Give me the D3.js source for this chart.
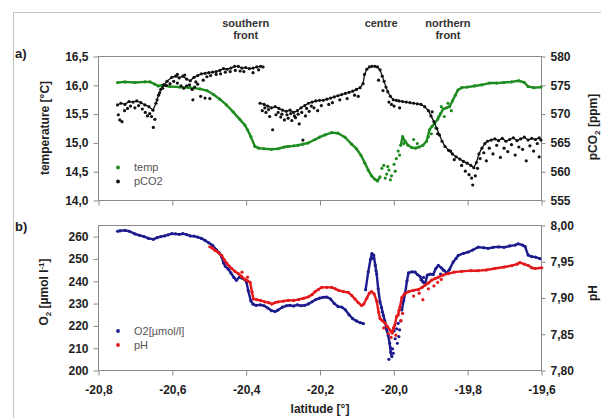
<!DOCTYPE html>
<html>
<head>
<meta charset="utf-8">
<script src="https://cdn.jsdelivr.net/npm/d3@7"></script>
<style>
  body { margin: 0; background: #fff; }
  svg { display: block; font-family: Arial, "Liberation Sans", sans-serif; }
  .axis .tick text { font-size: 12px; font-weight: bold; fill: #1e1e1e; }
  .axis path, .axis line { stroke: #8a8a8a; }
  .title { font-size: 12px; font-weight: bold; fill: #1e1e1e; }
  .front { font-size: 11px; font-weight: bold; fill: #333; }
  .legend { font-size: 11px; fill: #555; }
</style>
</head>
<body>
<svg id="chart" width="601" height="418"></svg>
<script>
// latitude ticks shared by both panels
const latTicks = [-20.8, -20.6, -20.4, -20.2, -20.0, -19.8, -19.6];
const tempTicks = [14.0, 14.5, 15.0, 15.5, 16.0, 16.5];
const pco2Ticks = [555, 560, 565, 570, 575, 580];
const o2Ticks = [200, 210, 220, 230, 240, 250, 260];
const phTicks = [7.80, 7.85, 7.90, 7.95, 8.00];

const fronts = [
  { lat: -20.4, lines: ["southern", "front"] },
  { lat: -20.033, lines: ["centre"] },
  { lat: -19.852, lines: ["northern", "front"] },
];

// [latitude, value]; null breaks a run of points
const temp = [
  [-20.747,16.04],[-20.727,16.05],[-20.700,16.04],[-20.673,16.05],[-20.659,16.05],[-20.646,16.01],
  [-20.637,15.98],[-20.627,15.99],[-20.605,15.97],[-20.578,15.96],[-20.551,15.95],[-20.524,15.93],
  [-20.505,15.90],[-20.487,15.83],[-20.470,15.75],[-20.452,15.65],[-20.434,15.53],[-20.416,15.40],
  [-20.402,15.30],[-20.395,15.22],[-20.386,15.10],[-20.375,14.93],[-20.365,14.90],[-20.350,14.89],
  [-20.330,14.88],[-20.312,14.89],[-20.295,14.92],[-20.285,14.93],[-20.270,14.94],[-20.258,14.95],
  [-20.245,14.97],[-20.231,14.99],[-20.212,15.05],[-20.200,15.09],[-20.185,15.13],[-20.167,15.17],
  [-20.150,15.16],[-20.131,15.09],[-20.113,14.97],[-20.100,14.89],[-20.088,14.78],[-20.077,14.64],
  [-20.068,14.52],[-20.059,14.42],[-20.050,14.36],[-20.043,14.33],[-20.036,14.40],
  null,
  [-19.980,14.95],[-19.975,15.10],[-19.968,15.02],[-19.960,14.95],[-19.950,14.91],[-19.940,14.90],
  [-19.930,14.92],[-19.920,14.95],[-19.910,15.02],[-19.902,15.22],[-19.895,15.28],[-19.888,15.33],
  [-19.880,15.40],[-19.872,15.50],[-19.865,15.58],[-19.856,15.60],[-19.848,15.62],[-19.840,15.72],
  [-19.832,15.82],[-19.825,15.91],[-19.815,15.95],[-19.800,15.96],[-19.780,15.98],[-19.760,16.00],
  [-19.740,16.03],[-19.720,16.03],[-19.700,16.04],[-19.680,16.05],[-19.660,16.07],[-19.645,16.04],
  [-19.635,15.97],[-19.620,15.95],[-19.600,15.96],
];
const tempScatter = [
  [-20.031,14.55],[-20.026,14.60],[-20.022,14.38],[-20.018,14.45],[-20.015,14.58],[-20.012,14.52],
  [-20.008,14.35],[-20.005,14.42],[-19.998,14.62],[-19.995,14.50],[-19.992,14.72],[-19.987,14.85],
  [-19.983,14.78],[-19.972,14.98],[-19.945,15.05],[-19.935,14.98],[-19.905,15.10],[-19.897,15.15],
  [-19.885,15.25],[-19.877,15.45],[-19.870,15.62],[-19.862,15.45],[-19.852,15.68],[-19.843,15.55],
];

const pco2 = [
  [-20.747,571.5],[-20.738,571.8],[-20.727,571.6],[-20.716,572.1],[-20.705,572.0],[-20.695,572.2],
  [-20.684,571.9],[-20.673,571.5],[-20.662,571.2],[-20.651,570.6],[-20.643,571.8],[-20.636,573.2],
  [-20.630,574.2],[-20.622,575.0],[-20.613,575.6],[-20.600,576.3],[-20.590,576.5],[-20.580,576.2],
  [-20.570,576.5],[-20.560,576.0],[-20.550,575.7],[-20.540,576.3],[-20.530,576.6],[-20.520,576.9],
  [-20.510,577.0],[-20.500,577.1],[-20.490,577.2],[-20.480,577.3],[-20.470,577.5],[-20.460,577.8],
  [-20.450,577.7],[-20.440,577.9],[-20.430,578.2],[-20.420,578.2],[-20.410,577.9],[-20.400,578.0],
  [-20.390,577.8],[-20.380,577.9],[-20.370,578.1],[-20.360,578.2],[-20.353,578.1],
  null,
  [-20.361,571.8],[-20.350,571.6],[-20.340,571.3],[-20.330,571.0],[-20.320,571.2],[-20.310,570.9],
  [-20.300,570.6],[-20.290,570.4],[-20.280,570.6],[-20.270,570.2],[-20.260,570.5],[-20.250,571.0],
  [-20.240,571.4],[-20.230,571.8],[-20.220,572.0],[-20.210,572.2],[-20.200,572.3],[-20.190,572.3],
  [-20.180,572.5],[-20.170,572.7],[-20.160,572.9],[-20.150,573.1],[-20.140,573.3],[-20.130,573.5],
  [-20.120,573.7],[-20.110,573.9],[-20.100,574.2],[-20.090,574.5],[-20.082,575.2],[-20.078,576.8],
  [-20.072,577.7],[-20.065,578.1],[-20.058,578.2],[-20.050,578.2],[-20.043,578.1],[-20.036,577.6],
  [-20.030,576.5],[-20.025,575.6],[-20.020,574.6],[-20.015,573.8],[-20.008,573.0],[-20.000,572.4],
  [-19.992,572.3],[-19.985,572.2],[-19.975,572.1],[-19.965,572.0],[-19.955,571.9],[-19.945,571.8],
  [-19.935,571.7],[-19.925,571.6],[-19.915,571.2],[-19.905,570.5],[-19.898,569.6],[-19.890,568.6],
  [-19.882,567.4],[-19.875,566.3],[-19.868,565.2],[-19.860,564.3],[-19.850,563.6],[-19.840,563.0],
  [-19.830,562.5],[-19.820,562.1],[-19.810,561.7],[-19.800,561.4],[-19.790,561.0],[-19.782,560.6],
  [-19.775,561.5],[-19.768,563.0],[-19.760,564.0],[-19.752,564.8],[-19.745,565.2],[-19.735,565.4],
  [-19.725,565.6],[-19.715,565.3],[-19.705,565.7],[-19.695,565.2],[-19.685,565.5],[-19.675,565.8],
  [-19.665,565.3],[-19.655,565.6],[-19.645,565.9],[-19.635,565.4],[-19.625,565.7],[-19.615,565.5],
  [-19.605,565.8],[-19.600,565.4],
];
const pco2Scatter = [
  [-20.745,569.8],[-20.741,568.9],[-20.735,568.6],[-20.728,570.5],[-20.720,570.9],[-20.712,571.3],
  [-20.700,571.0],[-20.690,571.4],[-20.680,570.8],[-20.672,570.2],[-20.666,569.6],[-20.660,570.0],
  [-20.655,569.5],[-20.650,567.6],[-20.646,569.0],[-20.640,572.4],[-20.633,573.6],[-20.625,574.4],
  [-20.615,574.9],[-20.605,575.2],[-20.595,575.6],[-20.585,575.3],[-20.575,574.8],[-20.568,574.4],
  [-20.560,574.8],[-20.552,575.0],[-20.545,574.2],[-20.543,572.4],[-20.538,574.6],[-20.530,575.1],
  [-20.522,573.0],[-20.515,575.8],[-20.510,572.7],[-20.505,576.4],[-20.497,572.6],[-20.495,576.6],
  [-20.480,576.8],[-20.468,576.9],[-20.455,577.2],[-20.442,577.3],[-20.428,577.5],[-20.415,577.4],
  [-20.405,577.3],[-20.380,577.1],[-20.365,577.6],[-20.585,576.8],[-20.565,576.7],[-20.535,575.5],
  [-20.355,570.5],[-20.345,570.2],[-20.335,569.5],[-20.327,567.2],[-20.318,569.8],[-20.305,569.4],
  [-20.295,568.9],[-20.285,569.2],[-20.275,568.8],[-20.265,569.3],[-20.255,568.2],[-20.245,565.4],
  [-20.238,569.6],[-20.228,570.4],[-20.215,571.0],[-20.205,570.5],[-20.195,571.4],[-20.175,571.6],
  [-20.165,571.9],[-20.145,572.4],[-20.125,572.6],[-20.105,573.2],[-20.095,573.0],[-20.040,575.8],
  [-20.348,571.0],[-20.338,570.7],[-20.312,570.2],[-20.302,569.9],[-20.288,569.8],[-20.278,570.0],
  [-20.268,569.6],[-20.258,569.9],[-20.248,570.2],[-20.235,570.9],[-20.222,571.3],
  [-20.028,574.0],[-20.012,572.0],[-20.005,571.6],[-19.998,571.3],[-19.983,571.0],[-19.895,570.3],
  [-19.880,566.5],[-19.845,563.5],[-19.835,562.0],[-19.815,561.0],[-19.805,560.0],[-19.795,559.4],
  [-19.788,558.8],[-19.785,557.6],[-19.778,559.2],[-19.772,560.5],[-19.765,562.2],[-19.755,563.2],
  [-19.748,561.8],[-19.740,564.0],[-19.730,563.0],[-19.720,564.5],[-19.710,562.4],[-19.700,564.0],
  [-19.690,563.4],[-19.680,564.6],[-19.670,562.8],[-19.660,564.2],[-19.650,563.8],[-19.640,561.8],
  [-19.630,564.4],[-19.620,563.5],[-19.610,564.8],[-19.605,562.5],
];

const o2 = [
  [-20.747,262.2],[-20.740,262.4],[-20.727,262.6],[-20.715,262.2],[-20.700,261.0],[-20.688,260.4],
  [-20.675,259.8],[-20.663,259.0],[-20.650,258.6],[-20.640,259.3],[-20.630,259.8],[-20.620,260.1],
  [-20.610,260.6],[-20.600,261.1],[-20.590,261.0],[-20.580,260.8],[-20.570,261.1],[-20.560,260.7],
  [-20.550,260.1],[-20.540,260.0],[-20.530,259.6],[-20.520,259.0],[-20.510,258.1],[-20.500,257.0],
  [-20.490,255.9],[-20.480,254.0],[-20.472,252.5],[-20.465,250.7],[-20.460,248.0],[-20.455,246.5],
  [-20.447,245.2],[-20.440,243.5],[-20.432,241.5],[-20.425,240.2],[-20.417,241.7],[-20.410,241.2],
  [-20.403,240.6],[-20.398,239.5],[-20.393,235.5],[-20.386,231.0],[-20.380,229.5],[-20.372,229.0],
  [-20.360,229.2],[-20.350,228.8],[-20.340,227.8],[-20.330,226.6],[-20.320,226.2],[-20.313,226.8],
  [-20.300,228.2],[-20.290,228.8],[-20.280,229.0],[-20.270,228.7],[-20.260,229.2],[-20.250,228.8],
  [-20.240,229.0],[-20.230,229.6],[-20.220,230.6],[-20.210,231.6],[-20.200,232.2],[-20.190,232.6],
  [-20.180,232.7],[-20.170,231.8],[-20.160,229.8],[-20.150,228.5],[-20.140,228.2],[-20.130,227.0],
  [-20.120,224.8],[-20.110,223.0],[-20.100,222.0],[-20.090,221.2],[-20.081,220.8],
  null,
  [-20.075,236.0],[-20.068,244.0],[-20.062,249.5],[-20.058,252.2],[-20.053,251.5],[-20.049,247.0],
  [-20.045,243.0],[-20.041,236.4],[-20.036,230.5],[-20.032,228.0],[-20.027,224.5],[-20.023,222.0],
  [-20.018,218.0],[-20.014,215.5],[-20.010,212.0],[-20.007,208.0],[-20.004,206.0],
  null,
  [-19.977,226.9],[-19.972,231.0],[-19.968,234.4],[-19.963,240.0],[-19.959,243.5],[-19.950,244.0],
  [-19.941,243.9],[-19.935,242.8],[-19.928,242.0],[-19.920,239.5],[-19.914,238.7],[-19.908,242.5],
  [-19.900,243.0],[-19.892,242.8],[-19.885,245.5],[-19.878,246.9],[-19.870,245.8],[-19.862,244.6],
  [-19.856,243.5],[-19.848,245.0],[-19.838,248.4],[-19.830,250.0],[-19.824,251.4],[-19.810,252.3],
  [-19.797,252.9],[-19.785,253.8],[-19.770,255.1],[-19.755,254.8],[-19.743,254.5],[-19.730,255.0],
  [-19.715,255.2],[-19.700,255.0],[-19.685,255.6],[-19.670,256.0],[-19.662,256.6],[-19.650,256.0],
  [-19.643,255.3],[-19.635,251.5],[-19.625,250.8],[-19.615,250.6],[-19.603,249.9],
];
const o2Scatter = [
  [-20.055,250.0],[-20.047,244.5],[-20.030,226.0],[-20.012,204.8],[-20.008,210.0],[-20.002,209.5],
  [-20.000,207.5],[-19.998,217.5],[-19.995,214.0],[-19.991,218.5],[-19.989,212.0],[-19.987,220.9],
  [-19.985,215.0],[-19.983,218.0],[-19.980,222.0],[-19.925,240.5],[-19.918,241.5],[-19.872,243.0],
  [-19.865,244.8],
];

const ph = [
  [-20.497,7.970],[-20.490,7.968],[-20.483,7.965],[-20.474,7.962],[-20.465,7.958],[-20.458,7.952],
  [-20.451,7.947],[-20.444,7.943],[-20.438,7.940],[-20.429,7.936],[-20.420,7.933],[-20.411,7.929],
  [-20.402,7.925],[-20.395,7.923],[-20.388,7.921],[-20.383,7.908],[-20.379,7.898],[-20.370,7.897],
  [-20.360,7.896],[-20.348,7.894],[-20.338,7.893],[-20.329,7.891],[-20.320,7.893],[-20.312,7.894],
  [-20.298,7.895],[-20.285,7.896],[-20.270,7.896],[-20.257,7.897],[-20.243,7.899],[-20.230,7.901],
  [-20.220,7.904],[-20.212,7.908],[-20.203,7.911],[-20.194,7.914],[-20.180,7.914],[-20.167,7.914],
  [-20.157,7.912],[-20.149,7.910],[-20.135,7.908],[-20.122,7.907],[-20.113,7.903],[-20.104,7.898],
  [-20.095,7.893],[-20.086,7.889],[-20.080,7.891],[-20.072,7.899],[-20.065,7.906],[-20.059,7.908],
  [-20.052,7.905],[-20.045,7.895],[-20.040,7.880],[-20.036,7.871],[-20.030,7.868],[-20.023,7.865],
  [-20.016,7.860],[-20.009,7.855],[-20.003,7.851],[-19.996,7.862],[-19.991,7.874],[-19.987,7.876],
  [-19.982,7.887],[-19.977,7.900],[-19.970,7.905],[-19.959,7.908],[-19.945,7.910],[-19.932,7.911],
  [-19.922,7.914],[-19.914,7.917],[-19.905,7.920],[-19.896,7.924],[-19.887,7.926],[-19.878,7.928],
  [-19.865,7.931],[-19.851,7.933],[-19.835,7.935],[-19.815,7.936],[-19.790,7.937],[-19.770,7.937],
  [-19.748,7.938],[-19.725,7.940],[-19.700,7.942],[-19.679,7.944],[-19.665,7.946],[-19.657,7.948],
  [-19.645,7.946],[-19.634,7.944],[-19.625,7.941],[-19.616,7.940],[-19.598,7.941],
];
const phScatter = [
  [-20.410,7.935],[-20.395,7.928],[-20.026,7.858],[-20.013,7.850],[-20.006,7.845],[-20.000,7.858],
  [-19.993,7.848],[-19.985,7.882],[-19.979,7.868],[-19.975,7.878],[-19.945,7.902],[-19.930,7.906],
  [-19.920,7.897],[-19.905,7.912],[-19.890,7.916],[-19.880,7.921],[-19.870,7.925],
];

const svg = d3.select("#chart");
const comma = (f) => (d) => d3.format(f)(d).replace(".", ",").replace("\u2212", "-");

const x = d3.scaleLinear().domain([-20.8, -19.6]).range([98, 541]);
const yT = d3.scaleLinear().domain([14, 16.5]).range([200, 56]);
const yC = d3.scaleLinear().domain([555, 580]).range([200, 56]);
const yO = d3.scaleLinear().domain([200, 265]).range([370, 225]);
const yH = d3.scaleLinear().domain([7.8, 8.0]).range([370, 225]);

// outer frame (only top and left edges show)
svg.append("path").attr("d", "M13.5,418V12.5H601").attr("fill", "none").attr("stroke", "#c4c4c4");

function panel(yL, yR, top, bottom, opts) {
  const g = svg.append("g");
  g.append("rect")
    .attr("x", x.range()[0] + 0.5).attr("y", top + 0.5)
    .attr("width", x.range()[1] - x.range()[0]).attr("height", bottom - top)
    .attr("fill", "none").attr("stroke", "#8a8a8a");

  const xa = d3.axisBottom(x).tickValues(latTicks).tickSize(5).tickSizeOuter(0).tickPadding(10);
  if (opts.xLabels) xa.tickFormat(comma(".1f"));
  else xa.tickFormat("");
  g.append("g").attr("class", "axis").attr("transform", `translate(0.5,${bottom + 0.5})`).call(xa);

  g.append("g").attr("class", "axis").attr("transform", `translate(${x.range()[0] + 0.5},0.5)`)
    .call(d3.axisLeft(yL).tickValues(opts.leftTicks).tickFormat(opts.leftFmt).tickSize(5).tickSizeOuter(0).tickPadding(5));
  g.append("g").attr("class", "axis").attr("transform", `translate(${x.range()[1] + 0.5},0.5)`)
    .call(d3.axisRight(yR).tickValues(opts.rightTicks).tickFormat(opts.rightFmt).tickSize(4).tickSizeOuter(0).tickPadding(5));
  g.selectAll(".axis .domain").remove();
  return g;
}

function series(g, pts, extra, yS, color, lineWidth = 2.4) {
  g.append("path").datum(pts)
    .attr("d", d3.line().defined((d) => d).x((d) => x(d[0])).y((d) => yS(d[1])))
    .attr("fill", "none").attr("stroke", color).attr("stroke-width", lineWidth).attr("stroke-linejoin", "round");
  g.append("g").selectAll("circle")
    .data(pts.filter(Boolean).concat(extra))
    .join("circle")
    .attr("cx", (d) => x(d[0])).attr("cy", (d) => yS(d[1]))
    .attr("r", 1.6).attr("fill", color);
}

function legend(g, items, x0, y0) {
  items.forEach(([label, color], i) => {
    g.append("circle").attr("cx", x0).attr("cy", y0 + i * 14).attr("r", 1.9).attr("fill", color);
    g.append("text").attr("class", "legend").attr("x", x0 + 16).attr("y", y0 + i * 14)
      .attr("dy", "0.35em").text(label);
  });
}

function rotTitle(cx, cy, build) {
  const t = svg.append("text").attr("class", "title")
    .attr("transform", `translate(${cx},${cy}) rotate(-90)`)
    .attr("text-anchor", "middle").attr("dy", "0.35em");
  build(t);
}

// panel a
const ga = panel(yT, yC, 56, 200, {
  leftTicks: tempTicks, leftFmt: comma(".1f"),
  rightTicks: pco2Ticks, rightFmt: d3.format("d"), xLabels: false,
});
series(ga, temp, tempScatter, yT, "#1f8c1f");
series(ga, pco2, pco2Scatter, yC, "#111111", 1.3);
legend(ga, [["temp", "#1f8c1f"], ["pCO2", "#111111"]], 118, 167.5);

// panel b
const gb = panel(yO, yH, 225, 370, {
  leftTicks: o2Ticks, leftFmt: d3.format("d"),
  rightTicks: phTicks, rightFmt: comma(".2f"), xLabels: true,
});
series(gb, o2, o2Scatter, yO, "#1c1c8e");
series(gb, ph, phScatter, yH, "#e3191b");
legend(gb, [["O2[\u00b5mol/l]", "#1c1c8e"], ["pH", "#e3191b"]], 118, 331);

// front labels
fronts.forEach((f) => {
  const t = svg.append("text").attr("class", "front").attr("text-anchor", "middle");
  f.lines.forEach((line, i) => t.append("tspan").attr("x", x(f.lat)).attr("y", 27 + i * 12).text(line));
});

// panel tags
svg.append("text").attr("class", "title").attr("x", 15).attr("y", 58).style("font-size", "13px").text("a)");
svg.append("text").attr("class", "title").attr("x", 15).attr("y", 231).style("font-size", "13px").text("b)");

// axis titles
rotTitle(45, 128, (t) => t.text("temperature [\u00b0C]"));
rotTitle(593, 127, (t) => {
  t.append("tspan").text("pCO");
  t.append("tspan").attr("dy", 3).style("font-size", "8px").text("2");
  t.append("tspan").attr("dy", -3).text(" [ppm]");
});
rotTitle(44, 292, (t) => {
  t.append("tspan").text("O");
  t.append("tspan").attr("dy", 3).style("font-size", "8px").text("2");
  t.append("tspan").attr("dy", -3).text(" [\u00b5mol l");
  t.append("tspan").attr("dy", -4).style("font-size", "8px").text("-1");
  t.append("tspan").attr("dy", 4).text("]");
});
rotTitle(593, 293, (t) => t.text("pH"));

svg.append("text").attr("class", "title").attr("x", 320).attr("y", 413)
  .attr("text-anchor", "middle").text("latitude [\u00b0]");
</script>
</body>
</html>
